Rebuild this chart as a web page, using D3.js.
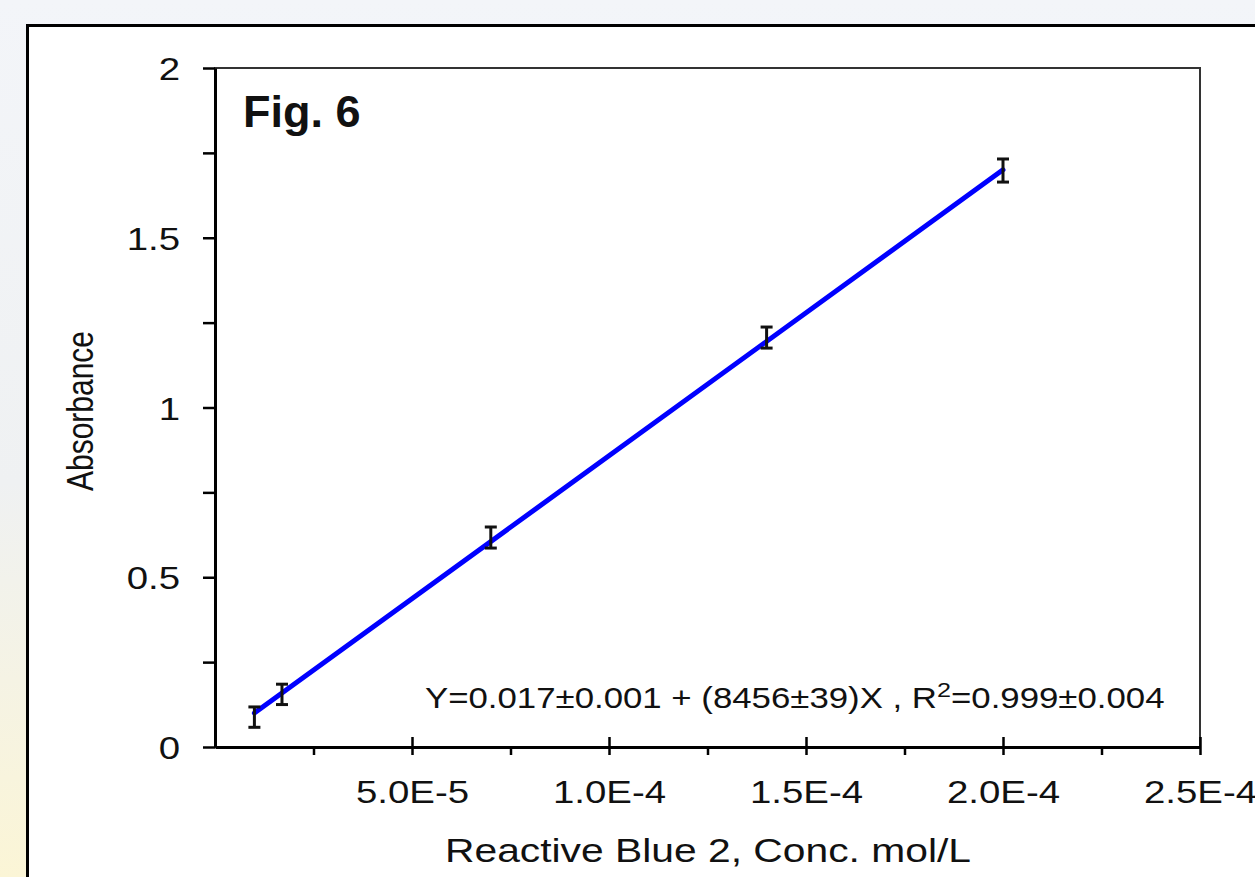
<!DOCTYPE html>
<html>
<head>
<meta charset="utf-8">
<script src="https://cdn.jsdelivr.net/npm/d3@7/dist/d3.min.js"></script>
<style>
  body { margin: 0; padding: 0; overflow: hidden; }
  svg { display: block; }
  text { font-family: "Liberation Sans", Arial, sans-serif; fill: #111; }
</style>
</head>
<body>
<div id="chart"></div>
<script>
// measured points (with error bars)
const concValues = [1.0e-5, 1.7e-5, 7.0e-5, 1.4e-4, 2.0e-4];
const absValues = [0.088, 0.155, 0.617, 1.206, 1.698];
const absErrors = [0.030, 0.030, 0.031, 0.031, 0.034];

// fitted line end points
const fitConc = [1.0e-5, 2.0e-4];
const fitAbs = [0.100, 1.700];

const xTickValues = [2.5e-5, 5.0e-5, 7.5e-5, 1.0e-4, 1.25e-4, 1.5e-4, 1.75e-4, 2.0e-4, 2.25e-4, 2.5e-4];
const xMajorTicks = [5.0e-5, 1.0e-4, 1.5e-4, 2.0e-4, 2.5e-4];
const xTickLabels = ['5.0E-5', '1.0E-4', '1.5E-4', '2.0E-4', '2.5E-4'];
const yTickValues = [0, 0.25, 0.5, 0.75, 1, 1.25, 1.5, 1.75, 2];
const yMajorTicks = [0, 0.5, 1, 1.5, 2];
const yTickLabels = ['0', '0.5', '1', '1.5', '2'];

const width = 1255, height = 877;
const margin = { top: 68, right: 55, bottom: 130, left: 215 };
const stretch = 1.2; // the original text is drawn a bit wide

const svg = d3.select('#chart').append('svg')
  .attr('width', width)
  .attr('height', height);

// page background behind the figure frame
const grad = svg.append('defs').append('linearGradient')
  .attr('id', 'bg').attr('x1', 0).attr('y1', 0).attr('x2', 0).attr('y2', 1);
grad.append('stop').attr('offset', '0%').attr('stop-color', '#f3f5f9');
grad.append('stop').attr('offset', '55%').attr('stop-color', '#eff1f2');
grad.append('stop').attr('offset', '100%').attr('stop-color', '#fbf5d6');
svg.append('rect').attr('width', width).attr('height', height).attr('fill', 'url(#bg)');

svg.append('rect')
  .attr('x', 27.5).attr('y', 25.5)
  .attr('width', 1300).attr('height', 900)
  .attr('fill', '#fff')
  .attr('stroke', '#000')
  .attr('stroke-width', 3);

const contentWidth = width - margin.left - margin.right;
const contentHeight = height - margin.top - margin.bottom;

const x = d3.scaleLinear().domain([0, 2.5e-4]).range([0, contentWidth]);
const y = d3.scaleLinear().domain([0, 2]).range([contentHeight, 0]);

const g = svg.append('g')
  .attr('transform', 'translate(' + margin.left + ',' + margin.top + ')');

// plot frame (top / right)
g.append('rect')
  .attr('width', contentWidth).attr('height', contentHeight)
  .attr('fill', 'none')
  .attr('stroke', '#333')
  .attr('stroke-width', 2);

// x axis
const xAxis = g.append('g')
  .attr('class', 'axis axis--x')
  .attr('transform', 'translate(0,' + contentHeight + ')')
  .call(d3.axisBottom(x)
    .tickValues(xTickValues)
    .tickSize(8)
    .tickSizeOuter(0)
    .tickFormat(d => {
      const i = xMajorTicks.findIndex(m => Math.abs(m - d) < 1e-9);
      return i >= 0 ? xTickLabels[i] : '';
    }));
xAxis.select('.domain').attr('stroke', '#000').attr('stroke-width', 3);
xAxis.selectAll('.tick line')
  .attr('stroke', '#000').attr('stroke-width', 2.5)
  .attr('y1', d => xMajorTicks.some(m => Math.abs(m - d) < 1e-9) ? -10 : 0);
xAxis.selectAll('.tick text')
  .attr('x', 0).attr('y', 0).attr('dy', 0)
  .attr('transform', 'translate(0,56) scale(' + stretch + ',1)')
  .attr('fill', '#111')
  .style('font-size', '32px');

// y axis
const yAxis = g.append('g')
  .attr('class', 'axis axis--y')
  .call(d3.axisLeft(y)
    .tickValues(yTickValues)
    .tickSize(12)
    .tickSizeOuter(0)
    .tickFormat(d => {
      const i = yMajorTicks.indexOf(d);
      return i >= 0 ? yTickLabels[i] : '';
    }));
yAxis.select('.domain').attr('stroke', '#000').attr('stroke-width', 3);
yAxis.selectAll('.tick line').attr('stroke', '#000').attr('stroke-width', 2.5);
yAxis.selectAll('.tick text')
  .attr('x', 0).attr('dy', 0)
  .attr('transform', 'translate(-35,11.5) scale(' + stretch + ',1)')
  .attr('fill', '#111')
  .style('font-size', '32px');

// fitted line
const fitData = fitConc.map((c, i) => ({ c, a: fitAbs[i] }));
g.append('path')
  .datum(fitData)
  .attr('fill', 'none')
  .attr('stroke', '#0000ff')
  .attr('stroke-width', 5)
  .attr('stroke-linecap', 'round')
  .attr('d', d3.line().x(d => x(d.c)).y(d => y(d.a)));

// error bars
const points = concValues.map((c, i) => ({ c, a: absValues[i], e: absErrors[i] }));
const bars = g.selectAll('.err').data(points).enter().append('g').attr('class', 'err')
  .attr('stroke', '#111').attr('stroke-width', 3);
bars.append('line')
  .attr('x1', d => x(d.c)).attr('x2', d => x(d.c))
  .attr('y1', d => y(d.a - d.e)).attr('y2', d => y(d.a + d.e));
bars.append('line')
  .attr('x1', d => x(d.c) - 6).attr('x2', d => x(d.c) + 6)
  .attr('y1', d => y(d.a + d.e)).attr('y2', d => y(d.a + d.e));
bars.append('line')
  .attr('x1', d => x(d.c) - 6).attr('x2', d => x(d.c) + 6)
  .attr('y1', d => y(d.a - d.e)).attr('y2', d => y(d.a - d.e));

// equation
const eq = g.append('text')
  .attr('transform', 'translate(210,640) scale(' + stretch + ',1)')
  .style('font-size', '29px');
eq.append('tspan').text('Y=0.017\u00b10.001 + (8456\u00b139)X , R');
eq.append('tspan').attr('dy', -11).style('font-size', '21px').text('2');
eq.append('tspan').attr('dy', 11).text('=0.999\u00b10.004');

// figure label
g.append('text')
  .attr('x', 28).attr('y', 59)
  .style('font-size', '45px')
  .style('font-weight', 'bold')
  .attr('fill', '#000')
  .text('Fig. 6');

// axis titles
svg.append('text')
  .attr('transform', 'translate(708,862) scale(' + stretch + ',1)')
  .attr('text-anchor', 'middle')
  .style('font-size', '34px')
  .text('Reactive Blue 2, Conc. mol/L');

svg.append('text')
  .attr('transform', 'translate(93,411) scale(' + stretch + ',1) rotate(-90)')
  .attr('text-anchor', 'middle')
  .style('font-size', '30px')
  .text('Absorbance');
</script>
</body>
</html>
